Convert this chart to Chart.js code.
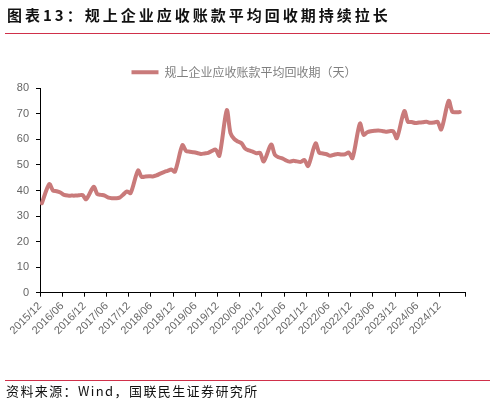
<!DOCTYPE html>
<html><head><meta charset="utf-8">
<script src="https://cdn.jsdelivr.net/npm/chart.js@4.4.1/dist/chart.umd.min.js"></script>
<style>
html,body{margin:0;padding:0;background:#fff;}
#wrap{position:relative;width:495px;height:404px;overflow:hidden;background:#fff;}
#c{position:absolute;left:0;top:0;}
.title{position:absolute;left:7px;top:7px;font:700 15px "Noto Sans CJK SC";line-height:15px;letter-spacing:3px;color:#111;white-space:nowrap;}
.rule{position:absolute;left:5px;width:485px;height:1.5px;background:#d0304a;}
.src{position:absolute;left:6px;top:384px;font:13px "Noto Sans CJK SC";line-height:13px;letter-spacing:1.4px;color:#111;white-space:nowrap;}
</style>
</head><body>
<div id="wrap">
<canvas id="c" width="495" height="404"></canvas>
<div class="title">图表13：规上企业应收账款平均回收期持续拉长</div>
<div class="rule" style="top:32.5px"></div>
<div class="rule" style="top:379.5px"></div>
<div class="src">资料来源：Wind，国联民生证券研究所</div>
</div>
<script>
const seriesName = '规上企业应收账款平均回收期（天）';
const months = [
 '2015/12',
 '2016/01','2016/02','2016/03','2016/04','2016/05','2016/06','2016/07','2016/08','2016/09','2016/10','2016/11','2016/12',
 '2017/01','2017/02','2017/03','2017/04','2017/05','2017/06','2017/07','2017/08','2017/09','2017/10','2017/11','2017/12',
 '2018/01','2018/02','2018/03','2018/04','2018/05','2018/06','2018/07','2018/08','2018/09','2018/10','2018/11','2018/12',
 '2019/01','2019/02','2019/03','2019/04','2019/05','2019/06','2019/07','2019/08','2019/09','2019/10','2019/11','2019/12',
 '2020/01','2020/02','2020/03','2020/04','2020/05','2020/06','2020/07','2020/08','2020/09','2020/10','2020/11','2020/12',
 '2021/01','2021/02','2021/03','2021/04','2021/05','2021/06','2021/07','2021/08','2021/09','2021/10','2021/11','2021/12',
 '2022/01','2022/02','2022/03','2022/04','2022/05','2022/06','2022/07','2022/08','2022/09','2022/10','2022/11','2022/12',
 '2023/01','2023/02','2023/03','2023/04','2023/05','2023/06','2023/07','2023/08','2023/09','2023/10','2023/11','2023/12',
 '2024/01','2024/02','2024/03','2024/04','2024/05','2024/06','2024/07','2024/08','2024/09','2024/10','2024/11','2024/12',
 '2025/01','2025/02','2025/03','2025/04','2025/05'
];
const values = [
 35.0,
 null,42.5,40.0,39.7,39.2,38.3,38.0,38.0,38.0,38.1,38.2,36.6,
 null,41.4,38.6,38.3,38.0,37.2,37.0,37.0,37.2,38.4,39.6,39.0,
 null,47.8,45.3,45.5,45.6,45.5,45.9,46.6,47.2,47.7,48.2,47.4,
 null,57.7,55.5,55.2,55.0,54.7,54.3,54.5,54.7,55.5,56.0,53.6,
 null,71.4,62.5,60.2,59.2,58.5,56.4,55.7,55.2,54.6,54.7,51.4,
 null,58.0,54.0,53.0,52.6,51.8,51.3,51.6,51.4,51.2,51.9,49.6,
 null,58.4,54.8,54.5,54.2,53.6,54.0,54.3,54.1,54.2,54.9,52.7,
 null,66.2,61.8,62.8,63.2,63.4,63.5,63.3,63.0,63.2,63.2,60.5,
 null,71.1,66.9,66.8,66.4,66.6,66.7,66.9,66.5,66.6,66.9,63.9,
 null,75.1,70.8,70.6,70.7
];
const tickLabels = ['2015/12','2016/06','2016/12','2017/06','2017/12','2018/06','2018/12','2019/06','2019/12','2020/06','2020/12','2021/06','2021/12','2022/06','2022/12','2023/06','2023/12','2024/06','2024/12'];
const yTicks = [0,10,20,30,40,50,60,70,80];

const axisFont = {family:'"Liberation Sans", Arial, sans-serif', size:11};
const points = months.map((m,i)=>({x:i+0.5, y:values[i]}));

// shift the legend so it is centred on the page rather than on the plot's right padding
const legendShift = {
  id:'legendShift',
  afterLayout(chart){
    const l = chart.legend;
    if (!l) return;
    const dx = (chart.width/2 - 3.5) - (l.left + l.right)/2;
    l.left += dx; l.right += dx;
  }
};

new Chart(document.getElementById('c'), {
  type:'line',
  data:{datasets:[{
    label: seriesName,
    data: points,
    borderColor:'#c97a7a',
    backgroundColor:'#c97a7a',
    borderWidth:4,
    pointRadius:0,
    tension:0.3,
    spanGaps:true,
    borderCapStyle:'round',
    borderJoinStyle:'round',
    fill:false
  }]},
  plugins:[legendShift],
  options:{
    responsive:false,
    animation:false,
    layout:{padding:{left:0,right:29.7,top:47.3,bottom:0}},
    plugins:{
      tooltip:{enabled:false},
      legend:{
        position:'top', align:'center',
        labels:{usePointStyle:true, pointStyle:'line', pointStyleWidth:27, padding:19,
          color:'#808080', font:{family:'"Noto Sans CJK SC"', size:12}}
      }
    },
    scales:{
      x:{
        type:'linear', min:0, max:months.length+1,
        afterFit(s){ s.height = 111.3; },
        ticks:{stepSize:6, autoSkip:false, maxRotation:45, minRotation:45, color:'#666', font:axisFont,
          callback:(v)=> (v%6===0 && tickLabels[v/6]) ? tickLabels[v/6] : ''},
        grid:{drawOnChartArea:false, drawTicks:true, tickLength:4, tickColor:'#000', tickWidth:1},
        border:{display:true, color:'#000', width:1}
      },
      y:{
        min:yTicks[0], max:yTicks[yTicks.length-1],
        afterFit(s){ s.width = 40; },
        ticks:{stepSize:10, padding:7, color:'#666', font:axisFont},
        grid:{drawOnChartArea:false, drawTicks:true, tickLength:4, tickColor:'#000', tickWidth:1},
        border:{display:true, color:'#000', width:1}
      }
    }
  }
});
</script>
</body></html>
